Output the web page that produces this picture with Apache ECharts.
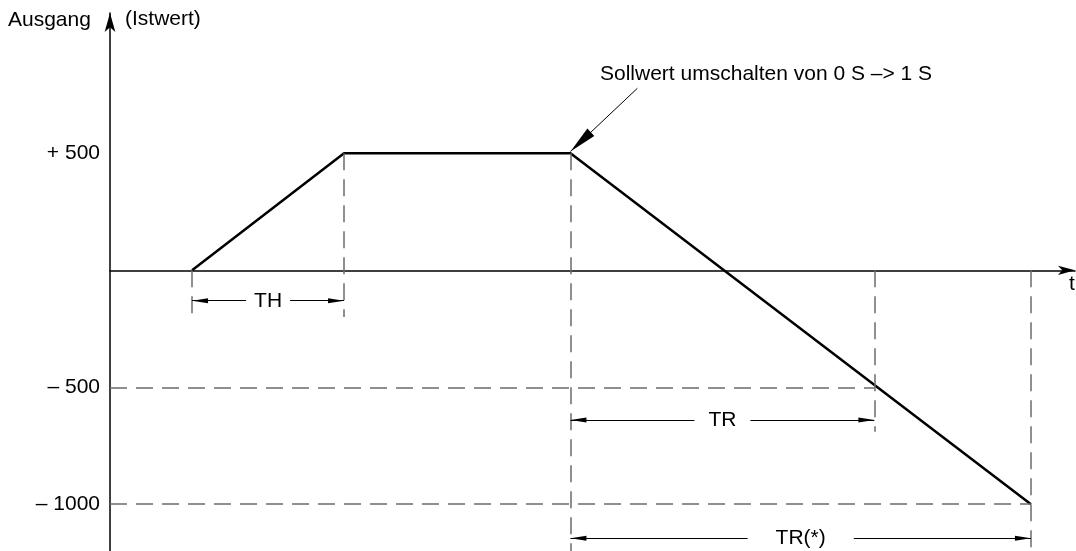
<!DOCTYPE html>
<html>
<head>
<meta charset="utf-8">
<script src="https://cdn.jsdelivr.net/npm/echarts@6/dist/echarts.min.js"></script>
<style>
  html, body { margin: 0; padding: 0; background: #fff; }
  #main { width: 1076px; height: 551px; }
</style>
</head>
<body>
<div id="main"></div>
<script>
// Ausgang-Verlauf (t in Einheiten von TH)
var curveT = [0.54, 1.54, 3.03, 6.06];
var curveV = [0, 500, 500, -1000];

// Beschriftete Werte der y-Achse
var yTickValues = [500, -500, -1000];
var yTickLabels = ['+ 500', '\u2013 500', '\u2013 1000'];

// gestrichelte Hilfslinien [t1, v1, t2, v2]
var guideLines = [
	[0.54, 0, 0.54, -200],
	[1.54, 500, 1.54, -200],
	[3.03, 500, 3.03, -1200],
	[5.03, 0, 5.03, -690],
	[6.06, 0, 6.06, -1200],
	[0, -500, 5.03, -500],
	[0, -1000, 6.06, -1000]
];

// Maßpfeile [Name, t1, t2, v, Lücke]
var dimNames = ['TH', 'TR', 'TR(*)'];
var dimFrom = [0.54, 3.03, 3.03];
var dimTo = [1.54, 5.03, 6.06];
var dimLevel = [-130, -640, -1145];
var dimGap = [8, 14, 28];

// Hinweispfeil "Sollwert umschalten"
var pointerFrom = [3.47, 778];
var pointerTo = [3.03, 508];

var FONT = 'Liberation Sans, Arial, sans-serif';

function ballin() {
	var myChart = echarts.init(document.getElementById('main'));

	var curve = [];
	for (var i = 0; i < curveT.length; i++) {
		curve.push([curveT[i], curveV[i]]);
	}

	var guideData = [];
	for (var i = 0; i < guideLines.length; i++) {
		var g = guideLines[i];
		guideData.push([{ coord: [g[0], g[1]] }, { coord: [g[2], g[3]] }]);
	}

	var dimData = [];
	for (var i = 0; i < dimNames.length; i++) {
		dimData.push([{
			name: dimNames[i],
			coord: [dimFrom[i], dimLevel[i]],
			label: { padding: [2, dimGap[i]] }
		}, { coord: [dimTo[i], dimLevel[i]] }]);
	}

	var option = {
		animation: false,
		backgroundColor: '#fff',
		grid: { left: 110, right: 1, top: 13, height: 538 },
		xAxis: {
			type: 'value',
			min: 0,
			max: 6.35,
			axisLine: {
				onZero: true,
				symbol: ['none', 'arrow'],
				symbolSize: [7, 17],
				lineStyle: { color: '#000', width: 1.5 }
			},
			axisTick: { show: false },
			axisLabel: { show: false },
			splitLine: { show: false }
		},
		yAxis: {
			type: 'value',
			min: -1200,
			max: 1100,
			axisLine: {
				onZero: true,
				symbol: ['none', 'arrow'],
				symbolSize: [8, 19],
				lineStyle: { color: '#000', width: 1.5 }
			},
			axisTick: { show: false },
			axisLabel: {
				customValues: yTickValues,
				margin: 10,
				color: '#000',
				fontSize: 21,
				fontFamily: FONT,
				formatter: function (v) {
					return yTickLabels[yTickValues.indexOf(v)];
				}
			},
			splitLine: { show: false }
		},
		graphic: [
			{ type: 'text', left: 8, top: 10, style: { text: 'Ausgang', font: '21px ' + FONT, fill: '#000' } },
			{ type: 'text', left: 125, top: 9, style: { text: '(Istwert)', font: '21px ' + FONT, fill: '#000' } },
			{ type: 'text', left: 600, top: 64, style: { text: 'Sollwert umschalten von 0 S \u2013> 1 S', font: '21px ' + FONT, fill: '#000' } },
			{ type: 'text', left: 1069, top: 274, style: { text: 't', font: '21px ' + FONT, fill: '#000' } }
		],
		series: [{
			name: 'guides',
			type: 'line',
			data: [],
			markLine: {
				silent: true,
				symbol: ['none', 'none'],
				label: { show: false },
				lineStyle: { color: '#6b6b6b', width: 1.5, type: [17, 9] },
				data: guideData
			}
		}, {
			name: 'dims',
			type: 'line',
			data: [],
			markLine: {
				silent: true,
				symbol: ['triangle', 'triangle'],
				symbolSize: [5, 16],
				symbolOffset: [[0, 8], [0, 8]],
				lineStyle: { color: '#000', width: 1, type: 'solid' },
				label: {
					show: true,
					position: 'middle',
					distance: 0,
					verticalAlign: 'middle',
					formatter: '{b}',
					color: '#000',
					fontSize: 21,
					fontFamily: FONT,
					backgroundColor: '#fff'
				},
				data: dimData
			}
		}, {
			name: 'pointer',
			type: 'line',
			data: [],
			markLine: {
				silent: true,
				symbol: ['none', 'triangle'],
				symbolSize: [10, 28],
				symbolOffset: [[0, 0], [0, 14]],
				label: { show: false },
				lineStyle: { color: '#000', width: 1, type: 'solid' },
				data: [[{ coord: pointerFrom }, { coord: pointerTo }]]
			}
		}, {
			name: 'Ausgang',
			type: 'line',
			symbol: 'none',
			lineStyle: { color: '#000', width: 2.5 },
			data: curve
		}]
	};
	myChart.setOption(option);
}
ballin();
</script>
</body>
</html>
